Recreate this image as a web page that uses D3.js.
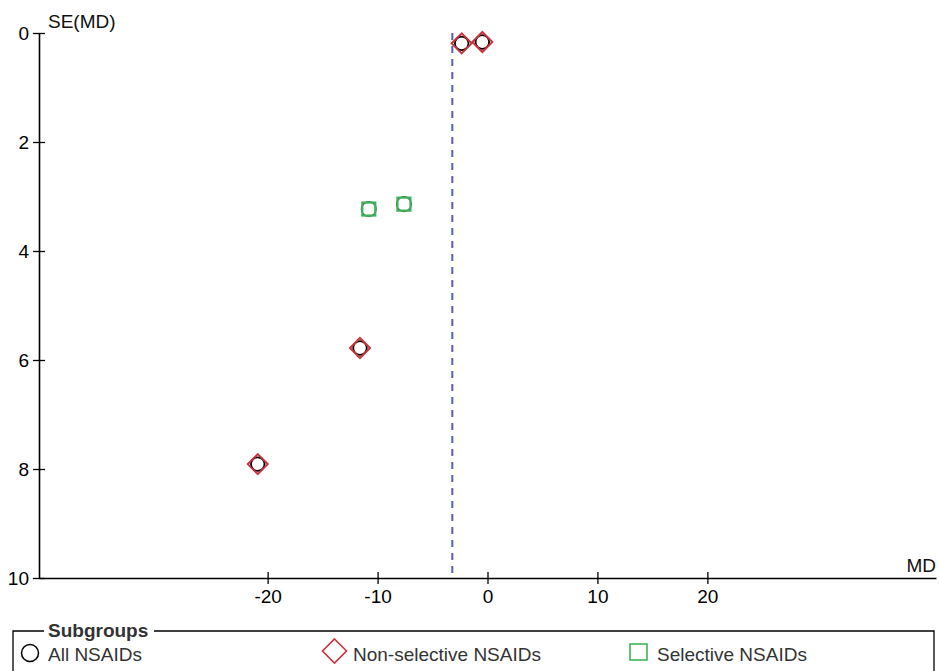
<!DOCTYPE html>
<html><head><meta charset="utf-8">
<script src="https://cdn.jsdelivr.net/npm/d3@7"></script>
<style>body{margin:0;background:#fff}svg{display:block}text{font-family:"Liberation Sans",Arial,sans-serif}</style>
</head><body><svg id="c" width="939" height="671"></svg>
<script>
const md = [-2.35, -0.47, -10.8, -7.6, -11.6, -20.9];
const se = [0.19, 0.165, 3.23, 3.14, 5.78, 7.91];
const group = ["Non-selective NSAIDs","Non-selective NSAIDs","Selective NSAIDs","Selective NSAIDs","Non-selective NSAIDs","Non-selective NSAIDs"];
const pooledMD = -3.2;
const xTicks = [-20, -10, 0, 10, 20];
const yTicks = [0, 2, 4, 6, 8, 10];
const legendLabels = ["All NSAIDs", "Non-selective NSAIDs", "Selective NSAIDs"];

const red = "#c8323c", green = "#3cb45a", blue = "#5560b0";
const FS = 19;
const svg = d3.select("#c");
const x = d3.scaleLinear().domain([-40.8, 40.8]).range([39, 936]);
const y = d3.scaleLinear().domain([0, 10]).range([33, 578]);

// axes
const xa = svg.append("g").attr("transform", `translate(0,${y(10)})`)
  .call(d3.axisBottom(x).tickValues(xTicks).tickSize(6).tickSizeOuter(0).tickFormat(d => String(d)));
xa.attr("font-family", null).attr("font-size", null);
xa.select(".domain").attr("stroke", "#000").attr("stroke-width", 1.6);
xa.selectAll(".tick line").attr("y1", -6).attr("y2", 6).attr("stroke-width", 1.3);
xa.selectAll(".tick text").attr("font-size", FS).attr("fill", "#000").attr("y", 0).attr("dy", null).attr("transform", "translate(0,25)");

const ya = svg.append("g").attr("transform", `translate(${x(-40.8)},0)`)
  .call(d3.axisLeft(y).tickValues(yTicks).tickSize(6).tickSizeOuter(0));
ya.attr("font-family", null).attr("font-size", null);
ya.select(".domain").attr("stroke", "#000").attr("stroke-width", 1.6);
ya.selectAll(".tick line").attr("x1", -6).attr("x2", 6).attr("stroke-width", 1.3);
ya.selectAll(".tick text").attr("font-size", FS).attr("fill", "#000").attr("x", -10);

svg.append("text").attr("x", 48).attr("y", 28).attr("font-size", FS).attr("fill", "#111").text("SE(MD)");
svg.append("text").attr("x", 936).attr("y", 572).attr("text-anchor", "end").attr("font-size", FS).attr("fill", "#111").text("MD");

// pooled line
svg.append("line").attr("x1", x(pooledMD)).attr("x2", x(pooledMD)).attr("y1", y(0)).attr("y2", y(10))
  .attr("stroke", blue).attr("stroke-width", 2).attr("stroke-dasharray", "7,6");

const data = md.map((m, i) => ({m, s: se[i], g: group[i]}));
const pts = svg.append("g");
data.forEach(d => {
  const cx = x(d.m), cy = y(d.s);
  if (d.g === "Non-selective NSAIDs") {
    const r = 10;
    pts.append("path").attr("d", `M${cx},${cy-r}L${cx+r},${cy}L${cx},${cy+r}L${cx-r},${cy}Z`).attr("fill", "#fff").attr("stroke", "none");
    pts.append("circle").attr("cx", cx).attr("cy", cy).attr("r", 6.8).attr("fill", "#fff").attr("stroke", "#000").attr("stroke-width", 1.8);
    pts.append("path").attr("d", `M${cx},${cy-r}L${cx+r},${cy}L${cx},${cy+r}L${cx-r},${cy}Z`).attr("fill", "none").attr("stroke", red).attr("stroke-width", 2);
  } else {
    const h = 6.5;
    pts.append("circle").attr("cx", cx).attr("cy", cy).attr("r", 7.3).attr("fill", "#fff").attr("stroke", "#555").attr("stroke-width", 1.5);
    pts.append("rect").attr("x", cx-h).attr("y", cy-h).attr("width", 2*h).attr("height", 2*h).attr("fill", "none").attr("stroke", green).attr("stroke-width", 2.2);
  }
});

// legend
const lg = svg.append("g");
lg.append("path").attr("d", "M13,680 V631 H934 V680").attr("fill", "none").attr("stroke", "#000").attr("stroke-width", 1.3);
lg.append("rect").attr("x", 44).attr("y", 622).attr("width", 110).attr("height", 18).attr("fill", "#fff");
lg.append("text").attr("x", 48).attr("y", 637).attr("font-size", FS).attr("font-weight", "bold").attr("fill", "#333").text("Subgroups");
const lx = [30, 334.5, 638.5];
const tx = [48, 353, 657];
lg.append("circle").attr("cx", lx[0]).attr("cy", 653).attr("r", 8.5).attr("fill", "none").attr("stroke", "#000").attr("stroke-width", 1.5);
lg.append("path").attr("d", `M${lx[1]},${639}L${lx[1]+12},${651}L${lx[1]},${663}L${lx[1]-12},${651}Z`).attr("fill", "none").attr("stroke", red).attr("stroke-width", 1.6);
lg.append("rect").attr("x", lx[2]-8.5).attr("y", 644).attr("width", 17).attr("height", 16).attr("fill", "none").attr("stroke", green).attr("stroke-width", 1.6);
legendLabels.forEach((t, i) => {
  lg.append("text").attr("x", tx[i]).attr("y", 661).attr("font-size", FS).attr("fill", "#333").text(t);
});
</script></body></html>
